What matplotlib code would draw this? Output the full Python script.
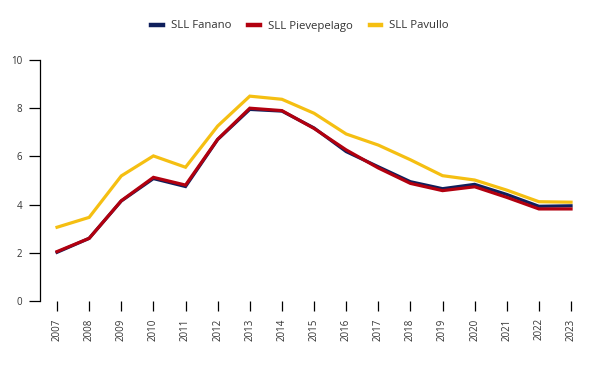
import numpy as np
import matplotlib.pyplot as plt
from matplotlib.lines import Line2D

# === Data ===

years = list(range(2007, 2024))

fanano = [2.02, 2.6, 4.15, 5.08, 4.75, 6.7, 7.95, 7.88, 7.18, 6.2, 5.57, 4.95, 4.66, 4.84, 4.42, 3.93, 3.95]
pievepelago = [2.05, 2.6, 4.16, 5.13, 4.81, 6.71, 8.0, 7.9, 7.16, 6.27, 5.52, 4.88, 4.58, 4.74, 4.3, 3.82, 3.82]
pavullo = [3.06, 3.47, 5.19, 6.02, 5.55, 7.26, 8.5, 8.37, 7.79, 6.93, 6.47, 5.86, 5.2, 5.02, 4.6, 4.12, 4.1]

series = ["SLL Fanano", "SLL Pievepelago", "SLL Pavullo"]
colors = ["#0f1f5c", "#b2000f", "#f5bf12"]

plt.rcParams["font.family"] = ["Open Sans", "DejaVu Sans"]
text_color = "#333333"

# === Plot ===

fig = plt.figure(figsize=(6, 3.71), dpi=100)
ax = fig.add_axes([40 / 600, 70 / 371, 550 / 600, 241 / 371])

for vals, c in zip([fanano, pievepelago, pavullo], colors):
    ax.plot(years, vals, color=c, linewidth=2.3, solid_joinstyle="miter")

ax.set_ylim(0, 10)
ax.set_xlim(2006.47, 2023.59)
ax.set_yticks([0, 2, 4, 6, 8, 10])
ax.set_xticks(years)
ax.set_xticklabels([str(y) for y in years], rotation=90)

for side in ["top", "right", "bottom"]:
    ax.spines[side].set_visible(False)
ax.spines["left"].set_linewidth(0.9)
ax.spines["left"].set_color("black")

ax.tick_params(axis="y", length=8, width=0.9, pad=5, labelsize=7, labelcolor=text_color)
ax.tick_params(axis="x", length=7.5, width=0.9, pad=5, labelsize=7, labelcolor=text_color)

handles = [Line2D([0], [0], color=c, linewidth=3.2) for c in colors]
fig.legend(handles, series, loc="center", bbox_to_anchor=(0.5, 1 - 26 / 371),
           ncol=3, frameon=False, fontsize=8.2, handlelength=1.0,
           columnspacing=1.5, handletextpad=0.7, labelcolor=text_color)

fig.savefig("out.png", dpi=100)
